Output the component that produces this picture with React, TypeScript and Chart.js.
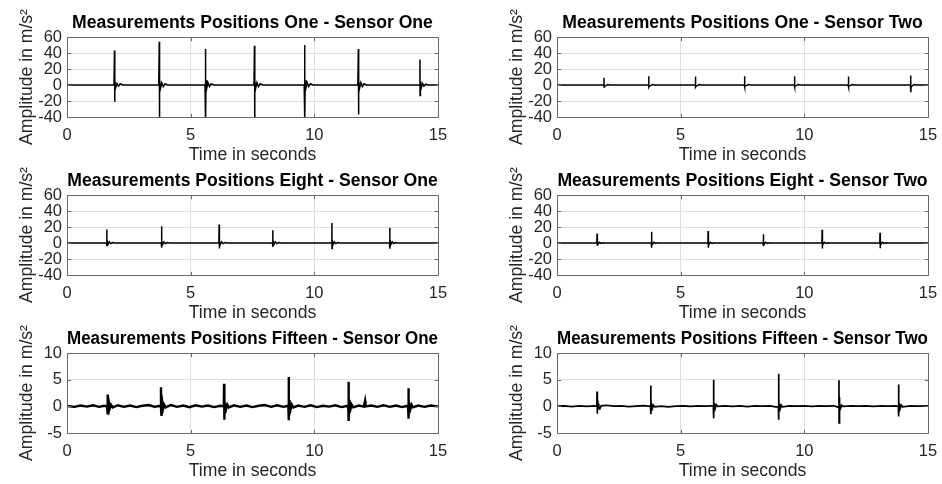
import { useEffect, useRef } from 'react';
import { Chart, registerables } from 'chart.js';

Chart.register(...registerables);

// ---------------- data ----------------
const X_TICKS_MIN = 0;
const X_TICKS_MAX = 15;
const X_TICK_STEP = 5;

const Y_WIDE = { min: -40, max: 60, step: 20 };
const Y_NARROW = { min: -5, max: 10, step: 5 };

const TITLES = [
  'Measurements Positions One - Sensor One',
  'Measurements Positions One - Sensor Two',
  'Measurements Positions Eight - Sensor One',
  'Measurements Positions Eight - Sensor Two',
  'Measurements Positions Fifteen - Sensor One',
  'Measurements Positions Fifteen - Sensor Two',
];
const X_LABEL = 'Time in seconds';
const Y_LABEL = 'Amplitude in m/s²';

// Position One - Sensor One
const oneS1Time = [0, 1.90, 1.92, 1.925, 1.94, 1.97, 2.02, 2.08, 2.15, 2.25, 3.71, 3.73, 3.735, 3.75, 3.78, 3.83, 3.89, 3.96, 4.06, 5.58, 5.60, 5.605, 5.62, 5.65, 5.70, 5.76, 5.83, 5.93, 7.56, 7.58, 7.585, 7.60, 7.63, 7.68, 7.74, 7.81, 7.91, 9.59, 9.61, 9.615, 9.63, 9.66, 9.71, 9.77, 9.84, 9.94, 11.76, 11.78, 11.785, 11.80, 11.83, 11.88, 11.94, 12.01, 12.11, 14.25, 14.27, 14.275, 14.29, 14.32, 14.37, 14.43, 14.50, 14.60, 15];
const oneS1Amp = [0, 0, 43, -21, 5, -3, 2, -1.5, 1.5, 0, 0, 54, -45, 6, -4, 3, -2, 1.5, 0, 0, 45, -45, 6, -4, 3, -2, 1.5, 0, 0, 49, -45, 5, -4, 3, -2, 1.5, 0, 0, 50, -45, 6, -4, 3, -2, 1.5, 0, 0, 45, -37, 5, -4, 3, -2, 1.5, 0, 0, 32, -13, 5, -4, 2, -1.5, 1, 0, 0];

// Position One - Sensor Two
const oneS2Time = [0, 1.89, 1.90, 1.905, 1.92, 1.97, 2.05, 2.15, 3.70, 3.71, 3.715, 3.73, 3.78, 3.86, 3.96, 5.59, 5.60, 5.605, 5.62, 5.67, 5.75, 5.85, 7.57, 7.58, 7.585, 7.60, 7.65, 7.73, 7.83, 9.59, 9.60, 9.605, 9.62, 9.67, 9.75, 9.85, 11.77, 11.78, 11.785, 11.80, 11.85, 11.93, 12.03, 14.29, 14.30, 14.305, 14.32, 14.37, 14.45, 14.55, 15];
const oneS2Amp = [0, 0, 9, -2.5, -1.5, -0.8, 0.5, 0, 0, 11, -2.5, -1.5, -0.8, 0.5, 0, 0, 10.5, -2.5, -1.5, -0.8, 0.5, 0, 0, 11, -2.5, -1.5, -0.8, 0.5, 0, 0, 11, -2.5, -1.5, -0.8, 0.5, 0, 0, 10.5, -2.5, -1.5, -0.8, 0.5, 0, 0, 12, -9, -2, -0.8, 0.5, 0, 0];

// Position Eight - Sensor One
const eightS1Time = [0, 1.60, 1.61, 1.615, 1.63, 1.66, 1.71, 1.77, 1.85, 1.93, 3.81, 3.82, 3.825, 3.84, 3.87, 3.92, 3.98, 4.06, 4.14, 6.14, 6.15, 6.155, 6.17, 6.20, 6.25, 6.31, 6.39, 6.47, 8.31, 8.32, 8.325, 8.34, 8.37, 8.42, 8.48, 8.56, 8.64, 10.70, 10.71, 10.715, 10.73, 10.76, 10.81, 10.87, 10.95, 11.03, 13.04, 13.05, 13.055, 13.07, 13.10, 13.15, 13.21, 13.29, 13.37, 15];
const eightS1Amp = [0, 0, 17, -4, 2, -1.5, 1.5, -0.8, 0.5, 0, 0, 21, -6, 2, -1.5, 1.5, -0.8, 0.5, 0, 0, 23, -7, 2, -1.5, 1.5, -0.8, 0.5, 0, 0, 16, -5, 2, -1.5, 1.5, -0.8, 0.5, 0, 0, 25, -7, 2, -1.5, 1.5, -0.8, 0.5, 0, 0, 19, -7, 2, -1.5, 1.5, -0.8, 0.5, 0, 0];

// Position Eight - Sensor Two
const eightS2Time = [0, 1.61, 1.62, 1.625, 1.64, 1.67, 1.72, 1.78, 1.86, 1.94, 3.81, 3.82, 3.825, 3.84, 3.87, 3.92, 3.98, 4.06, 4.14, 6.10, 6.11, 6.115, 6.13, 6.16, 6.21, 6.27, 6.35, 6.43, 8.33, 8.34, 8.345, 8.36, 8.39, 8.44, 8.50, 8.58, 8.66, 10.71, 10.72, 10.725, 10.74, 10.77, 10.82, 10.88, 10.96, 11.04, 13.05, 13.06, 13.065, 13.08, 13.11, 13.16, 13.22, 13.30, 13.38, 15];
const eightS2Amp = [0, 0, 11.7, -3.75, 1.5, -1, 1, -0.5, 0.3, 0, 0, 14, -6, 1.5, -1, 1, -0.5, 0.3, 0, 0, 15, -6, 1.5, -1, 1, -0.5, 0.3, 0, 0, 10.8, -4, 1.5, -1, 1, -0.5, 0.3, 0, 0, 16.7, -7, 1.5, -1, 1, -0.5, 0.3, 0, 0, 12.9, -6.7, 1.5, -1, 1, -0.5, 0.3, 0, 0];

// Position Fifteen - Sensor One
const fifteenS1Time = [0, 0.3, 0.55, 0.8, 1.05, 1.3, 1.5,
  1.62, 1.635, 1.64, 1.645, 1.65, 1.655, 1.66, 1.67, 1.68, 1.70, 1.73, 1.78, 1.85,
  2.05, 2.3, 2.55, 2.8, 3.05, 3.3, 3.55, 3.7,
  3.79, 3.80, 3.805, 3.81, 3.815, 3.825, 3.84, 3.86, 3.89, 3.93, 3.99,
  4.2, 4.45, 4.7, 4.95, 5.2, 5.45, 5.7, 5.95, 6.2,
  6.34, 6.35, 6.355, 6.36, 6.365, 6.375, 6.39, 6.41, 6.44, 6.48, 6.54,
  6.75, 7.0, 7.25, 7.5, 7.75, 8.0, 8.25, 8.5, 8.75, 8.9,
  8.95, 8.96, 8.965, 8.97, 8.975, 8.985, 9.0, 9.02, 9.05, 9.09, 9.15,
  9.35, 9.6, 9.85, 10.1, 10.35, 10.6, 10.85, 11.1, 11.3,
  11.37, 11.38, 11.385, 11.39, 11.395, 11.405, 11.42, 11.44, 11.47, 11.51, 11.57,
  11.8, 12.0, 12.05, 12.07, 12.3, 12.55, 12.8, 13.05, 13.3, 13.55, 13.72,
  13.79, 13.80, 13.805, 13.81, 13.815, 13.825, 13.84, 13.86, 13.89, 13.93, 13.99,
  14.2, 14.45, 14.7, 15];
const fifteenS1Amp = [0.05, -0.1, 0.15, -0.05, 0.2, -0.1, 0.1,
  0, 2.2, -1.2, 2.0, -1.5, 1.8, -1.3, 1.0, -0.8, 0.5, -0.4, 0.3, -0.2,
  0.2, -0.1, 0.15, -0.15, 0.1, 0.25, -0.1, 0.05,
  0, 3.6, -1.0, 2.0, -1.8, 1.2, -0.8, 0.6, -0.4, 0.3, -0.2,
  0.25, -0.1, 0.15, -0.15, 0.2, -0.05, 0.15, -0.15, 0.1,
  0, 4.25, -0.5, 1.8, -2.5, 1.2, -0.9, 0.6, -0.4, 0.3, -0.2,
  0.2, -0.1, 0.15, -0.15, 0.1, 0.25, -0.1, 0.2, -0.1, 0.05,
  0, 5.5, -0.5, 2.2, -2.6, 1.2, -0.9, 0.6, -0.4, 0.3, -0.2,
  0.15, -0.1, 0.2, -0.15, 0.1, -0.05, 0.2, -0.15, 0.05,
  0, 4.6, -0.5, 2.3, -2.75, 1.2, -0.9, 0.6, -0.4, 0.3, -0.2,
  0.15, -0.05, 1.0, 0, 0.15, -0.1, 0.2, -0.1, 0.15, -0.15, 0.05,
  0, 3.4, -0.5, 2.0, -2.3, 1.2, -0.8, 0.6, -0.4, 0.3, -0.2,
  0.15, -0.1, 0.15, 0];

// Position Fifteen - Sensor Two
const fifteenS2Time = [0, 0.3, 0.6, 0.9, 1.2, 1.5,
  1.61, 1.62, 1.625, 1.63, 1.64, 1.66, 1.69, 1.73, 1.78,
  2.0, 2.3, 2.6, 2.9, 3.2, 3.5, 3.7,
  3.78, 3.79, 3.795, 3.80, 3.81, 3.83, 3.86, 3.90, 3.95,
  4.2, 4.5, 4.8, 5.1, 5.4, 5.7, 6.0, 6.25,
  6.32, 6.33, 6.335, 6.34, 6.35, 6.37, 6.40, 6.44, 6.50,
  6.8, 7.1, 7.4, 7.7, 8.0, 8.3, 8.6, 8.85,
  8.95, 8.96, 8.965, 8.97, 8.98, 9.00, 9.03, 9.07, 9.12,
  9.4, 9.7, 10.0, 10.3, 10.6, 10.9, 11.2, 11.33,
  11.39, 11.40, 11.405, 11.41, 11.42, 11.44, 11.47, 11.51, 11.56,
  11.9, 12.2, 12.5, 12.8, 13.1, 13.4, 13.7,
  13.80, 13.81, 13.815, 13.82, 13.83, 13.85, 13.88, 13.92, 13.97,
  14.3, 14.6, 15];
const fifteenS2Amp = [0.05, 0.1, -0.05, 0.1, 0, 0.1,
  0, 2.8, -1.4, 1.2, -0.6, 0.5, -0.4, -0.5, 0.1,
  0.2, 0.05, 0.1, -0.05, 0.05, 0.15, 0.05,
  0, 3.9, -1.5, 1.5, -0.7, 0.5, -0.3, 0.2, -0.1,
  0.05, -0.1, 0.05, 0.1, 0, 0.1, 0.05, 0.1,
  0, 5.0, -2.25, 1.2, -0.8, 0.5, -0.3, 0.3, 0,
  0.1, 0, 0.1, -0.05, 0.1, 0.05, 0.1, -0.1,
  -0.1, 6.1, -2.5, 1.8, -0.8, 0.5, -0.4, 0.2, -0.1,
  0.1, 0.05, 0.1, 0, 0.1, 0.05, 0.1, -0.1,
  -0.2, 4.9, -3.1, 1.7, -0.8, 0.5, -0.3, 0.2, 0,
  0.1, 0.05, 0.1, 0, 0.1, 0.05, 0.1,
  0, 4.1, -1.9, 1.6, -0.8, 0.5, -0.3, 0.2, -0.1,
  0.1, 0.05, 0.1];

// ---------------- layout & style ----------------
const W = 942;
const H = 484;
const FONT = "'Liberation Sans', Arial, Helvetica, sans-serif";
const TEXT = '#262626';
const TICK_SIZE = 16.5;
const LABEL_SIZE = 17.6;
const TITLE_SIZE = 17.6;
const YW = 60; // width of y-axis box
const XH = 50; // height of x-axis box
const TITLE_PAD_BOTTOM = 3.3;
const TITLE_H = TITLE_SIZE * 1.2 + TITLE_PAD_BOTTOM;

const COLS = [
  { left: 67, right: 438 },
  { left: 557, right: 928 },
];
const ROWS = [
  { top: 37, bottom: 117 },
  { top: 195, bottom: 275 },
  { top: 353, bottom: 433 },
];

const PANELS = [
  { title: TITLES[0], time: oneS1Time, amp: oneS1Amp, y: Y_WIDE, col: 0, row: 0, lw: 1.5 },
  { title: TITLES[1], time: oneS2Time, amp: oneS2Amp, y: Y_WIDE, col: 1, row: 0, lw: 1.5 },
  { title: TITLES[2], time: eightS1Time, amp: eightS1Amp, y: Y_WIDE, col: 0, row: 1, lw: 1.5 },
  { title: TITLES[3], time: eightS2Time, amp: eightS2Amp, y: Y_WIDE, col: 1, row: 1, lw: 1.5 },
  { title: TITLES[4], time: fifteenS1Time, amp: fifteenS1Amp, y: Y_NARROW, col: 0, row: 2, lw: 2.4 },
  { title: TITLES[5], time: fifteenS2Time, amp: fifteenS2Amp, y: Y_NARROW, col: 1, row: 2, lw: 1.7 },
];

const matlabAxes = {
  id: 'matlabAxes',
  afterDatasetsDraw(chart: any) {
    const { ctx, chartArea: a, scales } = chart;
    const L = Math.round(a.left) + 0.5;
    const R = Math.round(a.right) + 0.5;
    const T = Math.round(a.top) + 0.5;
    const B = Math.round(a.bottom) + 0.5;
    const tl = 3.7;
    ctx.save();
    ctx.strokeStyle = '#6a6a6a';
    ctx.lineWidth = 1;
    ctx.beginPath();
    ctx.rect(L, T, R - L, B - T);
    scales.x.ticks.forEach((t: any) => {
      const px = Math.round(scales.x.getPixelForValue(t.value)) + 0.5;
      ctx.moveTo(px, B);
      ctx.lineTo(px, B - tl);
      ctx.moveTo(px, T);
      ctx.lineTo(px, T + tl);
    });
    scales.y.ticks.forEach((t: any) => {
      const py = Math.round(scales.y.getPixelForValue(t.value)) + 0.5;
      ctx.moveTo(L, py);
      ctx.lineTo(L + tl, py);
      ctx.moveTo(R, py);
      ctx.lineTo(R - tl, py);
    });
    ctx.stroke();
    ctx.restore();
  },
};

function makeConfig(p: any): any {
  const col = COLS[p.col];
  const row = ROWS[p.row];
  const points = p.time.map((t: number, i: number) => ({ x: t, y: p.amp[i] }));
  return {
    type: 'line',
    data: {
      datasets: [
        {
          data: points,
          borderColor: '#000000',
          borderWidth: p.lw,
          pointRadius: 0,
          tension: 0,
          fill: false,
        },
      ],
    },
    options: {
      animation: false,
      responsive: false,
      events: [],
      layout: {
        autoPadding: false,
        padding: {
          left: col.left - YW,
          right: W - col.right,
          top: row.top - TITLE_H,
          bottom: H - row.bottom - XH,
        },
      },
      plugins: {
        legend: { display: false },
        tooltip: { enabled: false },
        title: {
          display: true,
          text: p.title,
          fullSize: false,
          color: '#000000',
          font: { family: FONT, size: TITLE_SIZE, weight: 'bold' },
          padding: { top: 0, bottom: TITLE_PAD_BOTTOM },
        },
      },
      scales: {
        x: {
          type: 'linear',
          min: X_TICKS_MIN,
          max: X_TICKS_MAX,
          ticks: {
            stepSize: X_TICK_STEP,
            autoSkip: false,
            color: TEXT,
            font: { family: FONT, size: TICK_SIZE },
            padding: 9,
            maxRotation: 0,
          },
          grid: { color: '#dedede', drawTicks: false, lineWidth: 1 },
          border: { display: false },
          title: {
            display: true,
            text: X_LABEL,
            color: TEXT,
            font: { family: FONT, size: LABEL_SIZE },
            padding: { top: 0, bottom: 1.5 },
          },
          afterFit(s: any) {
            s.height = XH;
            s.paddingLeft = 0;
            s.paddingRight = 0;
          },
        },
        y: {
          type: 'linear',
          min: p.y.min,
          max: p.y.max,
          ticks: {
            stepSize: p.y.step,
            autoSkip: false,
            color: TEXT,
            font: { family: FONT, size: TICK_SIZE },
            padding: 5,
          },
          grid: { color: '#dedede', drawTicks: false, lineWidth: 1 },
          border: { display: false },
          title: {
            display: true,
            text: Y_LABEL,
            color: TEXT,
            font: { family: FONT, size: LABEL_SIZE },
            padding: { top: 9.4, bottom: 0 },
          },
          afterFit(s: any) {
            s.width = YW;
            s.paddingTop = 0;
            s.paddingBottom = 0;
          },
        },
      },
    },
    plugins: [matlabAxes],
  };
}

function Panel({ p }: { p: any }) {
  const ref = useRef<HTMLCanvasElement>(null);
  useEffect(() => {
    const chart = new Chart(ref.current as HTMLCanvasElement, makeConfig(p));
    return () => chart.destroy();
  }, [p]);
  return (
    <canvas
      ref={ref}
      width={W}
      height={H}
      style={{ position: 'absolute', left: 0, top: 0, width: W, height: H }}
    />
  );
}

export default function App() {
  return (
    <div style={{ position: 'fixed', left: 0, top: 0, width: W, height: H, background: '#ffffff' }}>
      {PANELS.map((p, i) => (
        <Panel key={i} p={p} />
      ))}
    </div>
  );
}
